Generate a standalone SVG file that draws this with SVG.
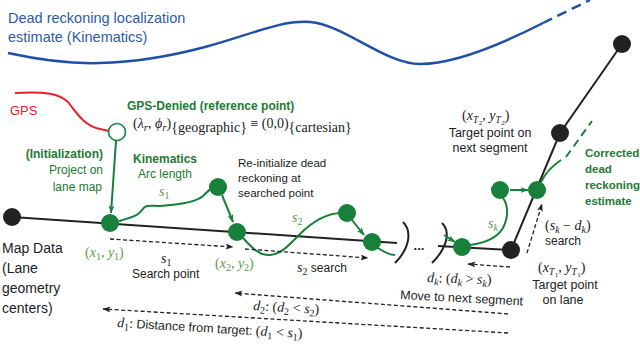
<svg xmlns="http://www.w3.org/2000/svg" width="640" height="345" viewBox="0 0 640 345">
<defs>
<style>
.s{font-family:"Liberation Sans",Arial,sans-serif}
.b{font-weight:bold}
.m{font-family:"Liberation Serif","Times New Roman",serif;font-size:14px}
.i{font-style:italic}
.g{fill:#1E7A34}
.gm{fill:#5B9A4A}
.k{fill:#222}
.blue{fill:#2E5AA8}
.dash{fill:none;stroke:#222;stroke-width:1.3;stroke-dasharray:4 2.5}
.gl{fill:none;stroke:#17803A;stroke-width:2}
.gn{fill:#17803A}
.kn{fill:#222}
</style>
<marker id="ak" viewBox="0 0 8 6" refX="7.5" refY="3" markerWidth="8" markerHeight="6" markerUnits="userSpaceOnUse" orient="auto">
<path d="M0,0 L8,3 L0,6 L2,3 z" fill="#222"/>
</marker>
<marker id="ag" viewBox="0 0 8 6" refX="7.5" refY="3" markerWidth="8" markerHeight="6" markerUnits="userSpaceOnUse" orient="auto">
<path d="M0,0 L8,3 L0,6 L2,3 z" fill="#17803A"/>
</marker>
</defs>
<rect width="640" height="345" fill="#fff"/>

<g id="dead-reckoning-curve">
<path d="M8,53 C40,60 70,64 100,63 C140,62 175,55 205,47 C250,35 280,20 310,22 C345,25 385,64 420,64 C455,64 500,45 543,23" fill="none" stroke="#1E50A8" stroke-width="2.5"/>
<path d="M543,23 L590,0" fill="none" stroke="#1E50A8" stroke-width="2.5" stroke-dasharray="10 6"/>
</g>

<g id="connectors">
<path d="M15,93 C45,91 60,94 68,102 C76,112 84,126 100,129 L109,131" fill="none" stroke="#E8202A" stroke-width="2"/>
<path d="M12,217 L397,243" fill="none" stroke="#222" stroke-width="2"/>
<path d="M403,222 C412,231 410,248 395,263" fill="none" stroke="#222" stroke-width="2"/>
<path d="M442,223 C451,232 447,248 432,263" fill="none" stroke="#222" stroke-width="2"/>
<path d="M438,246 L511,250 L560,133 L622,44" fill="none" stroke="#222" stroke-width="2"/>
<path class="gl" d="M116,141 L111,213" marker-end="url(#ag)"/>
<path class="gl" d="M119,221 C130,218 138,216 142,210 C146,204 150,206 160,206 C175,205 195,203 203,196 C207,192 210,189 212,188"/>
<path class="gl" d="M222,195 L233,222" marker-end="url(#ag)"/>
<path class="gl" d="M243,238 C252,248 260,256 270,255 C282,254 290,244 300,234 C312,222 325,214 340,213"/>
<path class="gl" d="M352,220 L364,235" marker-end="url(#ag)"/>
<path class="gl" d="M378,248 C384,252 390,255 395,255"/>
<path class="gl" d="M444,235 L455,242" marker-end="url(#ag)"/>
<path class="gl" d="M470,245 C485,243 497,238 503,228 C509,216 508,205 503,198"/>
<path class="gl" d="M510,190 L528,190" marker-end="url(#ag)"/>
<path class="gl" d="M541,182 C546,172 552,166 561,160"/>
<path class="gl" d="M566,157 L592,121" stroke-dasharray="8 5"/>
<path class="dash" d="M110,239 L233,247" marker-end="url(#ak)"/>
<path class="dash" d="M245,249 L368,258" marker-end="url(#ak)"/>
<path class="dash" d="M527,253 L542,204" marker-end="url(#ak)"/>
<path class="dash" d="M510,267 L468,264" marker-end="url(#ak)"/>
<path class="dash" d="M508,314 L235,293" marker-end="url(#ak)"/>
<path class="dash" d="M508,333 L103,309" marker-end="url(#ak)"/>
</g>

<g id="n-map-start"><circle class="kn" cx="12" cy="217" r="9"/></g>
<g id="n-gps-ref"><circle cx="117" cy="132" r="8.5" fill="#fff" stroke="#17803A" stroke-width="1.6"/></g>
<g id="n-x1"><circle class="gn" cx="110" cy="223" r="9"/></g>
<g id="n-s1"><circle class="gn" cx="218" cy="187" r="9"/></g>
<g id="n-x2"><circle class="gn" cx="237" cy="232" r="9"/></g>
<g id="n-s2"><circle class="gn" cx="347" cy="213" r="9"/></g>
<g id="n-x3"><circle class="gn" cx="372" cy="242" r="9"/></g>
<g id="n-xk"><circle class="gn" cx="462" cy="247" r="9"/></g>
<g id="n-sk"><circle class="gn" cx="500" cy="190" r="9"/></g>
<g id="n-target1"><circle class="kn" cx="511" cy="250" r="9"/></g>
<g id="n-corrected"><circle class="gn" cx="537" cy="190" r="9"/></g>
<g id="n-target2"><circle class="kn" cx="560" cy="133" r="9"/></g>
<g id="n-end"><circle class="kn" cx="622" cy="44" r="9"/></g>

<g id="labels">
<text class="s blue" font-size="14.5" x="8" y="23">Dead reckoning localization</text>
<text class="s blue" font-size="14.5" x="8" y="42">estimate (Kinematics)</text>
<text class="s" font-size="13" fill="#E8202A" x="10" y="115">GPS</text>
<text class="s b g" font-size="12" x="127" y="110">GPS-Denied (reference point)</text>
<text class="m k" x="133" y="128" font-size="15">(<tspan class="i">λ</tspan><tspan class="i" font-size="11" dy="3">r</tspan><tspan dy="-3">, </tspan><tspan class="i">ϕ</tspan><tspan class="i" font-size="11" dy="3">r</tspan><tspan dy="-3">)</tspan><tspan dy="4" font-size="14">{geographic}</tspan><tspan dy="-4"> ≡ (0,0)</tspan><tspan dy="4" font-size="14">{cartesian}</tspan></text>
<text class="s b g" font-size="12" x="103" y="158" text-anchor="end">(Initialization)</text>
<text class="s g" font-size="12" x="103" y="174" text-anchor="end">Project on</text>
<text class="s g" font-size="12" x="102" y="191" text-anchor="end">lane map</text>
<text class="s b g" font-size="12" x="165" y="163" text-anchor="middle">Kinematics</text>
<text class="s g" font-size="12" x="165" y="178" text-anchor="middle">Arc length</text>
<text class="m gm" x="159" y="196"><tspan class="i">s</tspan><tspan font-size="10" dy="3">1</tspan></text>
<text class="s k" font-size="11.5" x="238" y="167">Re-initialize dead</text>
<text class="s k" font-size="11.5" x="238" y="182">reckoning at</text>
<text class="s k" font-size="11.5" x="238" y="197">searched point</text>
<text class="m gm" x="292" y="222"><tspan class="i">s</tspan><tspan font-size="10" dy="3">2</tspan></text>
<text class="m k" x="462" y="120">(<tspan class="i">x</tspan><tspan class="i" font-size="9.5" dy="3">T</tspan><tspan font-size="7" dy="2" dx="0.5">2</tspan><tspan dy="-5">, </tspan><tspan class="i">y</tspan><tspan class="i" font-size="9.5" dy="3">T</tspan><tspan font-size="7" dy="2" dx="0.5">2</tspan><tspan dy="-5">)</tspan></text>
<text class="s k" font-size="12.5" x="490" y="137" text-anchor="middle">Target point on</text>
<text class="s k" font-size="12.5" x="490" y="152" text-anchor="middle">next segment</text>
<text class="s b g" font-size="11.5" x="585" y="157">Corrected</text>
<text class="s b g" font-size="11.5" x="585" y="173">dead</text>
<text class="s b g" font-size="11.5" x="585" y="189">reckoning</text>
<text class="s b g" font-size="11.5" x="585" y="205">estimate</text>
<text class="m gm" x="488" y="228"><tspan class="i">s</tspan><tspan class="i" font-size="10" dy="3">k</tspan></text>
<text class="m k" x="545" y="230">(<tspan class="i">s</tspan><tspan class="i" font-size="10" dy="3">k</tspan><tspan dy="-3"> − </tspan><tspan class="i">d</tspan><tspan class="i" font-size="10" dy="3">k</tspan><tspan dy="-3">)</tspan></text>
<text class="s k" font-size="12" x="545" y="245">search</text>
<text class="m k" x="538" y="272">(<tspan class="i">x</tspan><tspan class="i" font-size="9.5" dy="3">T</tspan><tspan font-size="7" dy="2" dx="0.5">1</tspan><tspan dy="-5">, </tspan><tspan class="i">y</tspan><tspan class="i" font-size="9.5" dy="3">T</tspan><tspan font-size="7" dy="2" dx="0.5">1</tspan><tspan dy="-5">)</tspan></text>
<text class="s k" font-size="12.5" x="565" y="289" text-anchor="middle">Target point</text>
<text class="s k" font-size="12.5" x="563" y="304" text-anchor="middle">on lane</text>
<text class="m k" x="427" y="282" transform="rotate(2 427 282)"><tspan class="i">d</tspan><tspan class="i" font-size="10" dy="3">k</tspan><tspan dy="-3">: (</tspan><tspan class="i">d</tspan><tspan class="i" font-size="10" dy="3">k</tspan><tspan dy="-3"> &gt; </tspan><tspan class="i">s</tspan><tspan class="i" font-size="10" dy="3">k</tspan><tspan dy="-3">)</tspan></text>
<text class="s k" font-size="12.5" x="400" y="299" transform="rotate(3 400 299)">Move to next segment</text>
<text class="m gm" x="85" y="257">(<tspan class="i">x</tspan><tspan font-size="10" dy="3">1</tspan><tspan dy="-3">, </tspan><tspan class="i">y</tspan><tspan font-size="10" dy="3">1</tspan><tspan dy="-3">)</tspan></text>
<text class="m k" x="161" y="263"><tspan class="i">s</tspan><tspan font-size="10" dy="3">1</tspan></text>
<text class="s k" font-size="12" x="132" y="278">Search point</text>
<text class="m gm" x="215" y="268">(<tspan class="i">x</tspan><tspan font-size="10" dy="3">2</tspan><tspan dy="-3">, </tspan><tspan class="i">y</tspan><tspan font-size="10" dy="3">2</tspan><tspan dy="-3">)</tspan></text>
<text class="m k" x="297" y="272"><tspan class="i">s</tspan><tspan font-size="10" dy="3">2</tspan><tspan class="s" font-size="12" dy="-3"> search</tspan></text>
<text class="m k" x="253" y="310" transform="rotate(3.4 253 310)"><tspan class="i">d</tspan><tspan font-size="10" dy="3">2</tspan><tspan dy="-3">: (</tspan><tspan class="i">d</tspan><tspan font-size="10" dy="3">2</tspan><tspan dy="-3"> &lt; </tspan><tspan class="i">s</tspan><tspan font-size="10" dy="3">2</tspan><tspan dy="-3">)</tspan></text>
<text class="m k" x="117" y="327" transform="rotate(3.4 117 327)"><tspan class="i">d</tspan><tspan font-size="10" dy="3">1</tspan><tspan dy="-3">:</tspan><tspan class="s" font-size="12.5"> Distance from target: </tspan>(<tspan class="i">d</tspan><tspan font-size="10" dy="3">1</tspan><tspan dy="-3"> &lt; </tspan><tspan class="i">s</tspan><tspan font-size="10" dy="3">1</tspan><tspan dy="-3">)</tspan></text>
<text class="s b k" font-size="13" x="419" y="250" text-anchor="middle">...</text>
<text class="s k" font-size="14" x="2" y="253">Map Data</text>
<text class="s k" font-size="14" x="2" y="273">(Lane</text>
<text class="s k" font-size="14" x="2" y="293">geometry</text>
<text class="s k" font-size="14" x="2" y="313">centers)</text>
</g>
</svg>
